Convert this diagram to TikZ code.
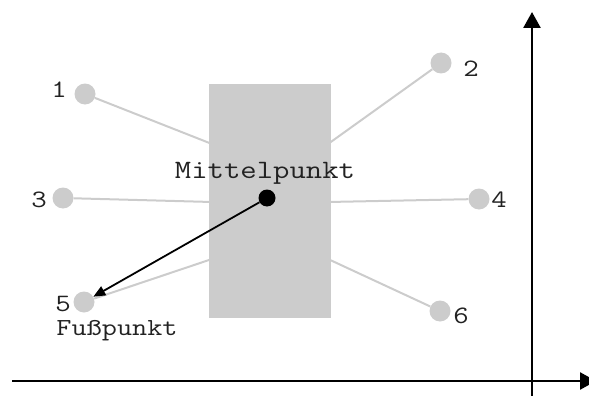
\documentclass[tikz,border=0pt]{standalone}
\usepackage{fontspec}
\newfontfamily\courlike[FakeStretch=1.2]{Latin Modern Mono}
\usetikzlibrary{arrows.meta}
\definecolor{lightg}{HTML}{CCCCCC}
\definecolor{txt}{HTML}{222222}
\tikzset{
  pt/.style={circle,fill=lightg,draw=none,minimum size=21pt,inner sep=0pt},
  conn/.style={draw=lightg,line width=2pt},
  num/.style={anchor=base,inner sep=0pt,font=\courlike\fontsize{25}{28}\selectfont,text=txt},
  lbl/.style={anchor=base,inner sep=0pt,text=txt},
  axis/.style={line width=2.5pt,-{Triangle[length=16pt,width=17pt]}},
}
\begin{document}
\begin{tikzpicture}[x=1pt,y=-1pt]
\clip (0,0) rectangle (589,396);
\useasboundingbox (0,0) rectangle (589,396);
% circles
\node[pt] (c1) at (85,94) {};
\node[pt] (c2) at (441,63) {};
\node[pt] (c3) at (63,198) {};
\node[pt] (c4) at (479,199) {};
\node[pt] (c5) at (84,302) {};
\node[pt] (c6) at (440,311) {};
% edge points on the block
\coordinate (l1) at (212,144);
\coordinate (l3) at (212,202);
\coordinate (l5) at (212,259);
\coordinate (r2) at (328,144);
\coordinate (r4) at (328,202);
\coordinate (r6) at (328,259);
\draw[conn] (c1) -- (l1);
\draw[conn] (c3) -- (l3);
\draw[conn] (c5) -- (l5);
\draw[conn] (c2) -- (r2);
\draw[conn] (c4) -- (r4);
\draw[conn] (c6) -- (r6);
% block
\node[fill=lightg,draw=none,minimum width=122pt,minimum height=234pt,inner sep=0pt] (box) at (270,201) {};
% centre point
\node[circle,fill=black,minimum size=17pt,inner sep=0pt] (m) at (267,198) {};
\draw[line width=1.8pt,-{Triangle[length=12pt,width=10pt]}] (m) -- (c5);
% labels
\node[lbl,font=\courlike\fontsize{26.5}{30}\selectfont] (tm) at (265,178) {Mittelpunkt};
\node[lbl,font=\courlike\fontsize{24.5}{28}\selectfont] (tf) at (117,335) {Fußpunkt};
\node[num] (n1) at (59,97) {1};
\node[num] (n2) at (471,77) {2};
\node[num] (n3) at (39,207) {3};
\node[num] (n4) at (499,207) {4};
\node[num] (n5) at (63,311) {5};
\node[num] (n6) at (461,323) {6};
% axes
\coordinate (xs) at (12,381);
\coordinate (xe) at (596,381);
\coordinate (ys) at (532,396);
\coordinate (ye) at (532,12);
\draw[axis] (xs) -- (xe);
\draw[axis] (ys) -- (ye);
\end{tikzpicture}
\end{document}
